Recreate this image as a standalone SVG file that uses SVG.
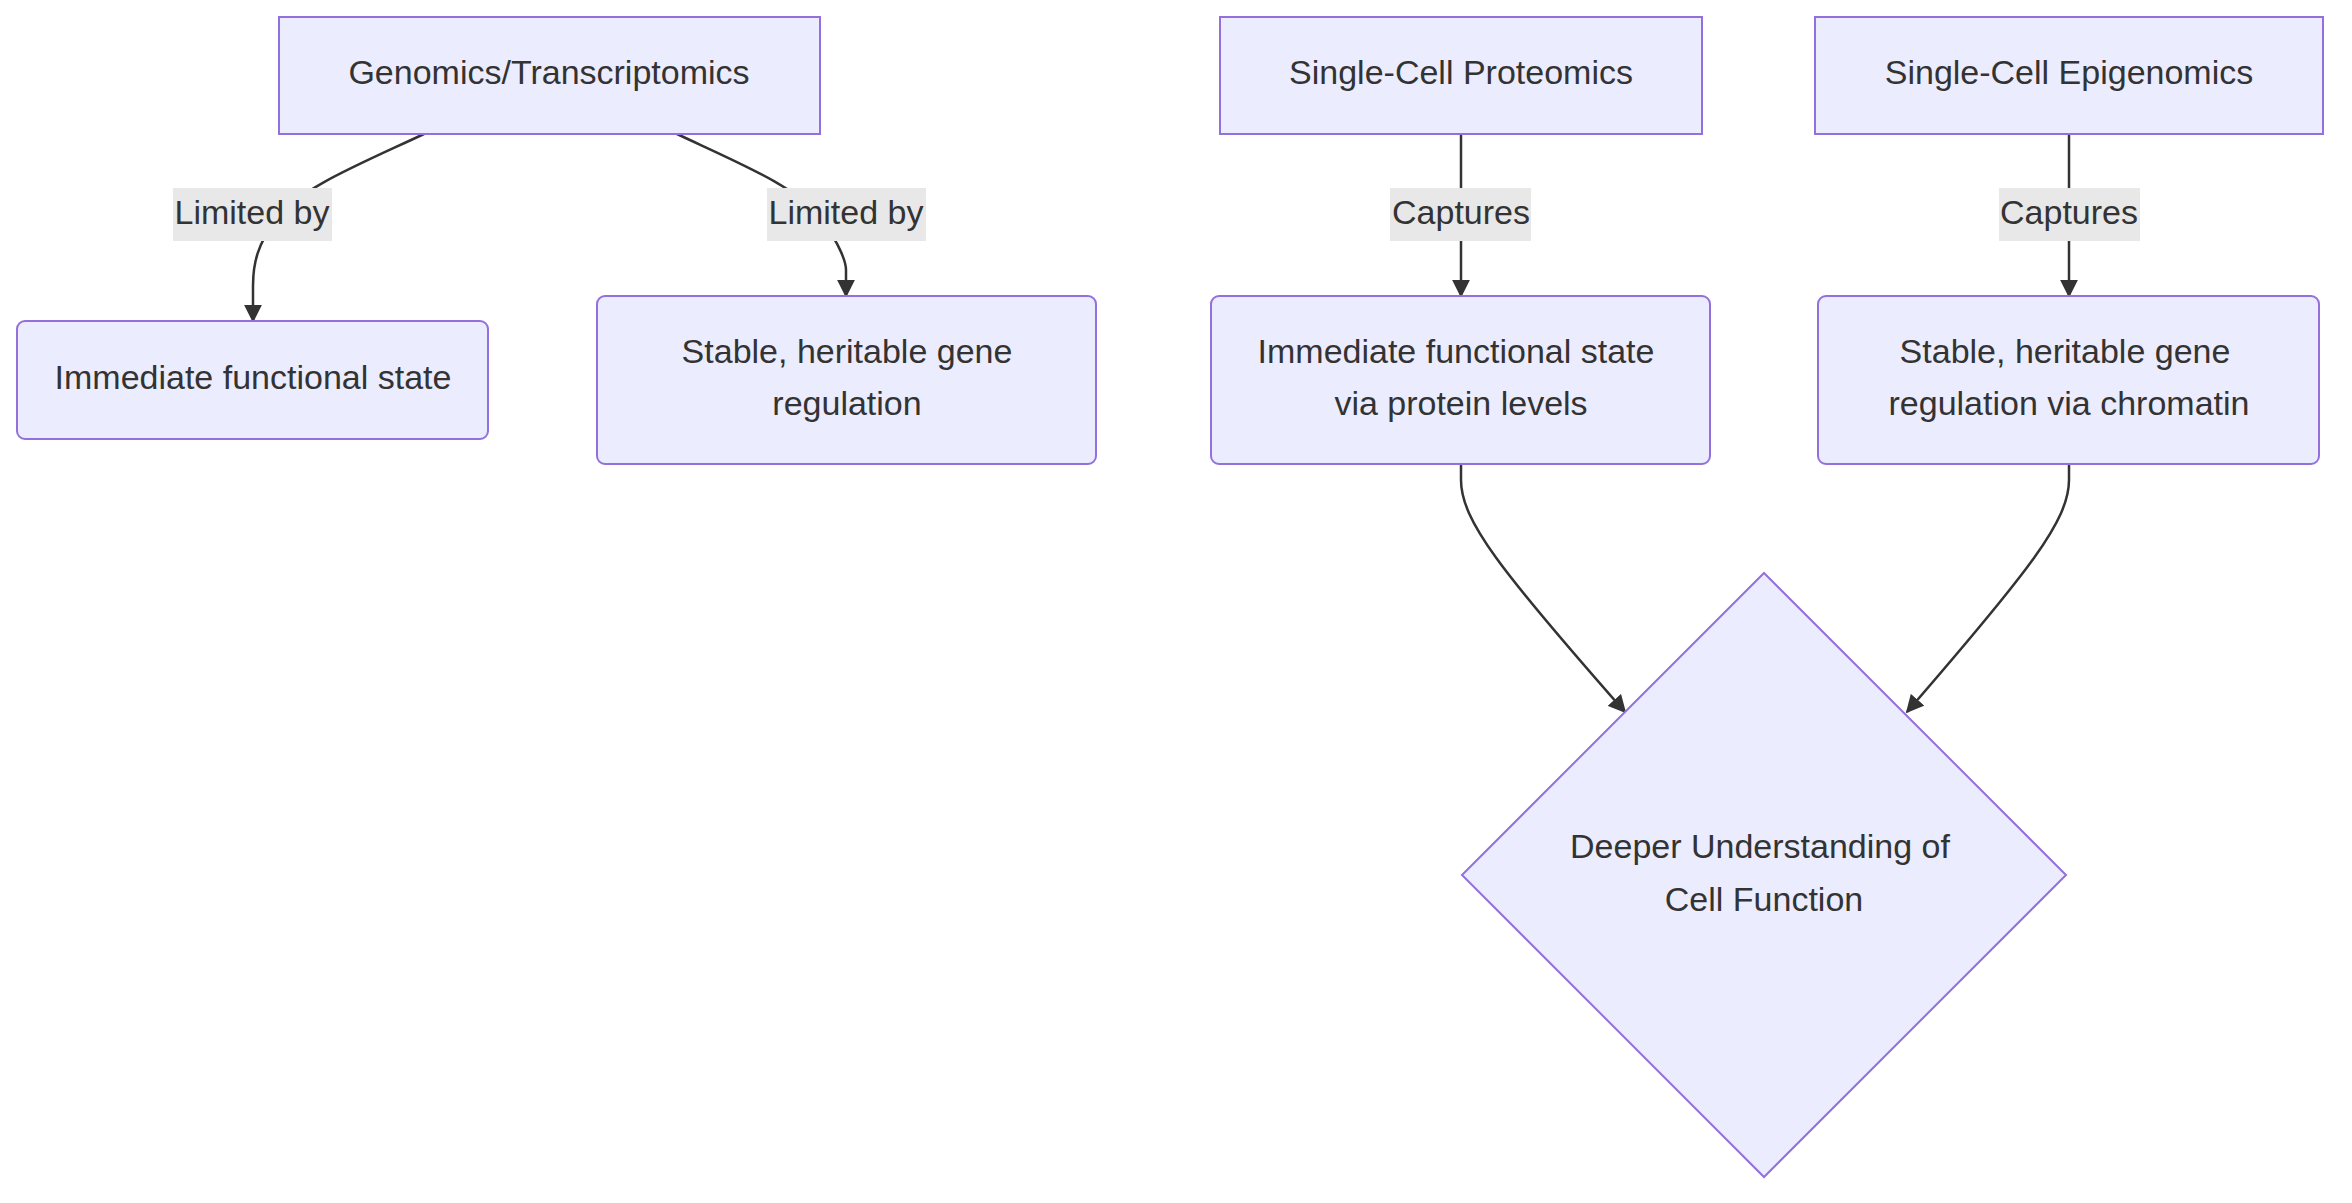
<svg xmlns="http://www.w3.org/2000/svg" width="2352" height="1203" viewBox="0 0 2352 1203">
<style>
.n{fill:#ECECFF;stroke:#9370DB;stroke-width:2}
.t{font-family:"Liberation Sans",Arial,sans-serif;font-size:34px;fill:#333;text-anchor:middle;dominant-baseline:central}
.e{fill:none;stroke:#333;stroke-width:2.5}
.lb{fill:#e8e8e8}
</style>
<defs><marker id="a" viewBox="0 0 10 10" refX="10" refY="5" markerWidth="7" markerHeight="7" markerUnits="userSpaceOnUse" orient="auto"><path d="M0,0L10,5L0,10z" fill="#333"/></marker>
<marker id="b" viewBox="0 0 10 10" refX="9" refY="5" markerWidth="18" markerHeight="18" markerUnits="userSpaceOnUse" orient="auto"><path d="M0,0L10,5L0,10z" fill="#333"/></marker></defs>
<rect width="2352" height="1203" fill="#fff"/>
<g id="edges">
<path class="e" marker-end="url(#b)" d="M424,134 C360,164 300,188 275,220 C258,245 253,262 253,286 L253,321"/>
<path class="e" marker-end="url(#b)" d="M677,134 C741,164 800,188 822,220 C840,245 846,262 846,270 L846,296"/>
<path class="e" marker-end="url(#b)" d="M1461,134 L1461,296"/>
<path class="e" marker-end="url(#b)" d="M2069,134 L2069,296"/>
<path class="e" marker-end="url(#b)" d="M1461,464 L1461,480 C1461,520 1500,570 1625,712"/>
<path class="e" marker-end="url(#b)" d="M2069,464 L2069,480 C2069,520 2030,570 1907,712"/>
<g id="labels">
<rect class="lb" x="173" y="188" width="159" height="53"/><text class="t" x="252" y="212">Limited by</text>
<rect class="lb" x="767" y="188" width="159" height="53"/><text class="t" x="846" y="212">Limited by</text>
<rect class="lb" x="1390" y="188" width="141" height="53"/><text class="t" x="1461" y="212">Captures</text>
<rect class="lb" x="1999" y="188" width="141" height="53"/><text class="t" x="2069" y="212">Captures</text>
</g>
</g>
<g id="genomics"><rect class="n" x="279" y="17" width="541" height="117"/><text class="t" x="549" y="72">Genomics/Transcriptomics</text></g>
<g id="proteomics"><rect class="n" x="1220" y="17" width="482" height="117"/><text class="t" x="1461" y="72">Single-Cell Proteomics</text></g>
<g id="epigenomics"><rect class="n" x="1815" y="17" width="508" height="117"/><text class="t" x="2069" y="72">Single-Cell Epigenomics</text></g>
<g id="immediate"><rect class="n" x="17" y="321" width="471" height="118" rx="8"/><text class="t" x="253" y="377">Immediate functional state</text></g>
<g id="stable"><rect class="n" x="597" y="296" width="499" height="168" rx="8"/><text class="t" x="847" y="351">Stable, heritable gene</text><text class="t" x="847" y="403">regulation</text></g>
<g id="immediateProtein"><rect class="n" x="1211" y="296" width="499" height="168" rx="8"/><text class="t" x="1456" y="351">Immediate functional state</text><text class="t" x="1461" y="403">via protein levels</text></g>
<g id="stableChromatin"><rect class="n" x="1818" y="296" width="501" height="168" rx="8"/><text class="t" x="2065" y="351">Stable, heritable gene</text><text class="t" x="2069" y="403">regulation via chromatin</text></g>
<g id="deeper"><path class="n" d="M1764,573 L2066,875 L1764,1177 L1462,875 Z"/><text class="t" x="1760" y="846">Deeper Understanding of</text><text class="t" x="1764" y="899">Cell Function</text></g>
</svg>
